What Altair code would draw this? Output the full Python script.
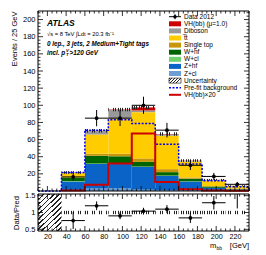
import altair as alt
import pandas as pd

# ---------------- data ----------------
bin_lo = [10, 35, 60, 85, 110, 135, 160, 185, 210]
bin_hi = [35, 60, 85, 110, 135, 160, 185, 210, 235]

z_cl    = [0, 1.0, 3.0, 3.0, 1.5, 1.0, 1.0, 0.5, 0.2]
z_hf    = [0, 10.0, 28.5, 28.5, 26.5, 16.5, 10.0, 3.0, 1.5]
w_cl    = [0, 0.5, 0.5, 0.5, 0.5, 0.5, 0.3, 0.2, 0.1]
w_hf    = [0, 4.0, 9.0, 8.5, 5.5, 4.0, 3.0, 1.5, 0.7]
stop    = [0, 0.5, 2.5, 3.0, 4.0, 3.5, 1.5, 0.5, 0.3]
ttbar   = [0, 5.0, 22.5, 41.0, 54.0, 39.0, 18.5, 6.5, 3.0]
diboson = [0, 0.5, 4.0, 10.0, 2.0, 1.5, 1.0, 0.8, 0.3]
vh      = [0, 0.1, 0.3, 0.5, 3.5, 0.5, 0.2, 0.1, 0.05]
unc     = [0, 1.5, 2.0, 2.0, 2.0, 2.0, 1.5, 1.0, 0.6]
prefit  = [0, 21.5, 71, 83, 78.7, 54.6, 31.5, 12, 5]
vh_x20  = [0, 0.5, 7.4, 32, 67, 10.5, 2, 0.5, 0.3]

data_x   = [47.5, 72.5, 97.5, 122.5, 147.5, 172.5, 197.5, 222.5]
data_y   = [16.4, 85, 85, 100, 71, 30, 17, 7.8]
data_err = [4.2, 9.5, 9.2, 10, 8.5, 5.5, 4.1, 2.8]

ratio_y   = [0.76, 1.2, 0.9, 1.04, 1.1, 0.84, 1.29, 1.7]
ratio_err = [0.25, 0.13, 0.1, 0.1, 0.12, 0.15, 0.2, 0.58]
ratio_unc = [0.05, 0.05, 0.05, 0.05, 0.05, 0.05, 0.05, 0.05]

comp_names = ["Z+cl", "Z+hf", "W+cl", "W+hf", "Single top", "tt", "Diboson", "VH(bb)"]
comp_vals = [z_cl, z_hf, w_cl, w_hf, stop, ttbar, diboson, vh]
comp_cols = ["#6d9fd6", "#0a64c8", "#6fd06f", "#006400", "#c8960a", "#ffcc00", "#999999", "#cc0000"]

legend_labels = ["Data 2012", "VH(bb) (\u03bc=1.0)", "Diboson", "t\u0305t", "Single top",
                 "W+hf", "W+cl", "Z+hf", "Z+cl", "Uncertainty", "Pre-fit background",
                 "VH(bb)\u00d720"]

x_major = [20, 40, 60, 80, 100, 120, 140, 160, 180, 200, 220]
x_minor = [v for v in range(10, 236, 5) if v % 20 != 0]
y_major = [20, 40, 60, 80, 100, 120, 140, 160, 180, 200]
y_minor = [v for v in range(4, 210, 4) if v % 20 != 0]
r_major = [0.5, 1.0, 1.5]
r_minor = [0.6, 0.7, 0.8, 0.9, 1.1, 1.2, 1.3, 1.4]

# ---------------- geometry ----------------
W = 211
HM = 180
GAP = 3
HR = 37
HT = HM + GAP + HR
RT = HM + GAP
FONT = "Liberation Sans"

xs = alt.Scale(domain=[10, 235], nice=False, zero=False)
ys = alt.Scale(domain=[0, 210], range=[HM, 0], nice=False, zero=False)
rs = alt.Scale(domain=[0.45, 1.55], range=[HT, RT], nice=False, zero=False, clamp=True)


def X(f):
    return alt.X(f, scale=xs, axis=None)


def Y(f, sc):
    return alt.Y(f, scale=sc, axis=None)


def stripes(n, x2=1.0, y2=0.0, col="#222222", frac=0.35):
    stops = []
    for i in range(n):
        a = i / n
        b = (i + frac) / n
        c = (i + 1) / n
        stops += [{"offset": a, "color": col}, {"offset": b, "color": col},
                  {"offset": b, "color": "rgba(0,0,0,0)"}, {"offset": c, "color": "rgba(0,0,0,0)"}]
    return {"gradient": "linear", "x1": 0, "y1": 0, "x2": x2, "y2": y2, "stops": stops}


# stack table
rows = []
for i in range(len(bin_lo)):
    base = 0.0
    for name, vals, col in zip(comp_names, comp_vals, comp_cols):
        rows.append({"lo": bin_lo[i], "hi": bin_hi[i], "y0": base, "y1": base + vals[i], "col": col, "comp": name})
        base += vals[i]
stack_df = pd.DataFrame(rows)

tot = [sum(v[i] for v in comp_vals) for i in range(len(bin_lo))]
unc_df = pd.DataFrame({"lo": bin_lo, "hi": bin_hi,
                       "a": [t - u for t, u in zip(tot, unc)], "b": [t + u for t, u in zip(tot, unc)]})
unc_df = unc_df[unc_df["b"] > 0]


def step_df(vals, start=0):
    pts = []
    k = 0
    pts.append({"x": bin_lo[start], "y": 0, "k": k}); k += 1
    for i in range(start, len(bin_lo)):
        pts.append({"x": bin_lo[i], "y": vals[i], "k": k}); k += 1
        pts.append({"x": bin_hi[i], "y": vals[i], "k": k}); k += 1
    pts.append({"x": bin_hi[-1], "y": 0, "k": k})
    return pd.DataFrame(pts)


data_df = pd.DataFrame({"x": data_x, "y": data_y,
                        "ylo": [y - e for y, e in zip(data_y, data_err)],
                        "yhi": [y + e for y, e in zip(data_y, data_err)],
                        "xlo": [x - 12.5 for x in data_x], "xhi": [x + 12.5 for x in data_x]})

rat_df = pd.DataFrame({"x": data_x, "y": ratio_y,
                       "ylo": [y - e for y, e in zip(ratio_y, ratio_err)],
                       "yhi": [y + e for y, e in zip(ratio_y, ratio_err)],
                       "xlo": [x - 12.5 for x in data_x], "xhi": [x + 12.5 for x in data_x]})

rband_df = pd.DataFrame({"lo": bin_lo[1:], "hi": bin_hi[1:],
                         "a": [1 - u for u in ratio_unc], "b": [1 + u for u in ratio_unc]})
rfirst_df = pd.DataFrame({"lo": [bin_lo[0]], "hi": [bin_hi[0]], "a": [0.45], "b": [1.55]})

one = pd.DataFrame({"d": [0]})


def rule_px(x, x2, y, y2=None, **kw):
    enc = dict(x=alt.value(x), x2=alt.value(x2), y=alt.value(y))
    if y2 is not None:
        enc["y2"] = alt.value(y2)
    return alt.Chart(one).mark_rule(**kw).encode(**enc)


def ticks(top, bot, yvals_major, yvals_minor, yscale):
    layers = []
    for vals, ln in ((x_major, 5), (x_minor, 2.5)):
        d = pd.DataFrame({"v": vals})
        layers.append(alt.Chart(d).mark_rule(color="black", strokeWidth=0.8).encode(
            x=X("v:Q"), y=alt.value(bot), y2=alt.value(bot - ln)))
        layers.append(alt.Chart(d).mark_rule(color="black", strokeWidth=0.8).encode(
            x=X("v:Q"), y=alt.value(top), y2=alt.value(top + ln)))
    for vals, ln in ((yvals_major, 5), (yvals_minor, 2.5)):
        d = pd.DataFrame({"v": vals})
        layers.append(alt.Chart(d).mark_rule(color="black", strokeWidth=0.8).encode(
            y=Y("v:Q", yscale), x=alt.value(0), x2=alt.value(ln)))
        layers.append(alt.Chart(d).mark_rule(color="black", strokeWidth=0.8).encode(
            y=Y("v:Q", yscale), x=alt.value(W), x2=alt.value(W - ln)))
    return layers


def frame(top, bot):
    return alt.Chart(one).mark_rect(fill="transparent", stroke="black", strokeWidth=1).encode(
        x=alt.value(0), x2=alt.value(W), y=alt.value(top), y2=alt.value(bot))


def txt(s, x, y, size=6.5, weight="normal", style="normal", align="left", col="black", baseline="middle", angle=0):
    return alt.Chart(one).mark_text(text=s, font=FONT, fontSize=size, fontWeight=weight, angle=angle,
                                    fontStyle=style, align=align, baseline=baseline, color=col).encode(
        x=alt.value(x), y=alt.value(y))


# ---------------- main panel ----------------
y_main_axis = alt.Axis(values=y_major, ticks=False, domain=False, grid=False, labelPadding=3, orient="left",
                       labelOverlap=False, title="Events / 25 GeV", titleAnchor="end", titlePadding=4)

stack = alt.Chart(stack_df).mark_rect(strokeWidth=0).encode(
    x=X("lo:Q"), x2="hi:Q",
    y=alt.Y("y0:Q", scale=ys, axis=y_main_axis), y2="y1:Q",
    fill=alt.Fill("col:N", scale=None))

unc_band = alt.Chart(unc_df).mark_rect(fill=stripes(10), strokeWidth=0).encode(
    x=X("lo:Q"), x2="hi:Q", y=Y("a:Q", ys), y2="b:Q")

pre_line = alt.Chart(step_df(prefit)).mark_line(color="#0000ff", strokeDash=[2, 1.5], strokeWidth=1.5).encode(
    x=X("x:Q"), y=Y("y:Q", ys), order="k:Q")

vh_line = alt.Chart(step_df(vh_x20, start=1)).mark_line(color="#cc0000", strokeWidth=2).encode(
    x=X("x:Q"), y=Y("y:Q", ys), order="k:Q")

d_v = alt.Chart(data_df).mark_rule(color="black", strokeWidth=1).encode(
    x=X("x:Q"), y=Y("ylo:Q", ys), y2="yhi:Q")
d_h = alt.Chart(data_df).mark_rule(color="black", strokeWidth=1).encode(
    x=X("xlo:Q"), x2="xhi:Q", y=Y("y:Q", ys))
d_p = alt.Chart(data_df).mark_point(filled=True, color="black", size=14, opacity=1).encode(
    x=X("x:Q"), y=Y("y:Q", ys))

layers = [stack, unc_band, pre_line, vh_line, d_v, d_h, d_p]
layers += ticks(0, HM, y_major, y_minor, ys)
layers.append(frame(0, HM))

# annotations
layers += [
    txt("ATLAS", 9, 12, size=8.5, weight="bold", style="italic"),
    txt("\u221as = 8 TeV  \u222bLdt = 20.3 fb\u207b\u00b9", 9, 23, size=5.8),
    txt("0 lep., 3 jets, 2 Medium+Tight tags", 9, 32.5, size=6.3, weight="bold", style="italic"),
    txt("incl. p", 9, 41.5, size=6.3, weight="bold", style="italic"),
    txt("V", 28, 39.5, size=4.2, weight="bold", style="italic"),
    txt("T", 28, 44, size=4.2, weight="bold", style="italic"),
    txt(">120 GeV", 31.5, 41.5, size=6.3, weight="bold", style="italic"),
]

# legend
LX0, LX1, LT = 131, 143, 146
for i, lab in enumerate(legend_labels):
    yy = 5.7 + 7.1 * i
    layers.append(txt(lab, LT, yy, size=6.5))
    if 1 <= i <= 8:
        col = comp_cols[8 - i]
        layers.append(alt.Chart(one).mark_rect(fill=col, strokeWidth=0).encode(
            x=alt.value(LX0), x2=alt.value(LX1), y=alt.value(yy - 2.5), y2=alt.value(yy + 2.5)))
    elif i == 0:
        layers.append(rule_px(LX0, LX1, yy, color="black", strokeWidth=1))
        layers.append(alt.Chart(one).mark_rule(color="black", strokeWidth=1).encode(
            x=alt.value((LX0 + LX1) / 2), y=alt.value(yy - 2.5), y2=alt.value(yy + 2.5)))
        layers.append(alt.Chart(one).mark_point(filled=True, color="black", size=12, opacity=1).encode(
            x=alt.value((LX0 + LX1) / 2), y=alt.value(yy)))
    elif i == 9:
        layers.append(alt.Chart(one).mark_rect(fill=stripes(5, 1, 0.4), stroke="black", strokeWidth=0.6).encode(
            x=alt.value(LX0), x2=alt.value(LX1), y=alt.value(yy - 2.5), y2=alt.value(yy + 2.5)))
    elif i == 10:
        layers.append(rule_px(LX0, LX1, yy, color="#0000ff", strokeWidth=1.5, strokeDash=[2, 1.5]))
    elif i == 11:
        layers.append(rule_px(LX0, LX1, yy, color="#cc0000", strokeWidth=2))

# ---------------- ratio panel ----------------
x_rat_axis = alt.Axis(values=x_major, ticks=False, domain=False, grid=False, labelPadding=1, orient="bottom",
                      labelOverlap=False, labelFontSize=7.2, title=None)
y_rat_axis = alt.Axis(values=r_major, ticks=False, domain=False, grid=False, labelPadding=3, format="~g",
                      orient="left", labelOverlap=False, title="Data/Pred", titlePadding=4)

r_first = alt.Chart(rfirst_df).mark_rect(fill=stripes(12, 0.72, 1.17), strokeWidth=0).encode(
    x=alt.X("lo:Q", scale=xs, axis=x_rat_axis), x2="hi:Q",
    y=alt.Y("a:Q", scale=rs, axis=y_rat_axis), y2="b:Q")
r_band = alt.Chart(rband_df).mark_rect(fill=stripes(10), strokeWidth=0).encode(
    x=X("lo:Q"), x2="hi:Q", y=Y("a:Q", rs), y2="b:Q")
r_v = alt.Chart(rat_df).mark_rule(color="black", strokeWidth=1).encode(
    x=X("x:Q"), y=Y("ylo:Q", rs), y2="yhi:Q")
r_h = alt.Chart(rat_df).transform_filter("datum.y <= 1.55").mark_rule(color="black", strokeWidth=1).encode(
    x=X("xlo:Q"), x2="xhi:Q", y=Y("y:Q", rs))
r_p = alt.Chart(rat_df).transform_filter("datum.y <= 1.55").mark_point(
    filled=True, color="black", size=14, opacity=1).encode(
    x=X("x:Q"), y=Y("y:Q", rs))

layers += [r_first, r_band, r_v, r_h, r_p]
layers += ticks(RT, HT, r_major, r_minor, rs)
layers.append(frame(RT, HT))
layers += [
    txt("m", 172, HT + 15, size=7.5),
    txt("bb", 178.5, HT + 17, size=5),
    txt("[GeV]", 211, HT + 15, size=7.5, align="right"),
]

chart = alt.layer(*layers).resolve_scale(x="independent", y="independent").properties(
    width=W, height=HT,
    padding={"left": 2, "top": 2, "right": 5, "bottom": 0}
).configure_view(stroke=None).configure_axis(
    labelFont=FONT, labelFontSize=7.5, labelColor="black", labelOverlap=False,
    titleFont=FONT, titleFontSize=7.5, titleColor="black", titleFontWeight="normal"
)

chart.save("out.html", embed_options={"renderer": "svg", "actions": False})
